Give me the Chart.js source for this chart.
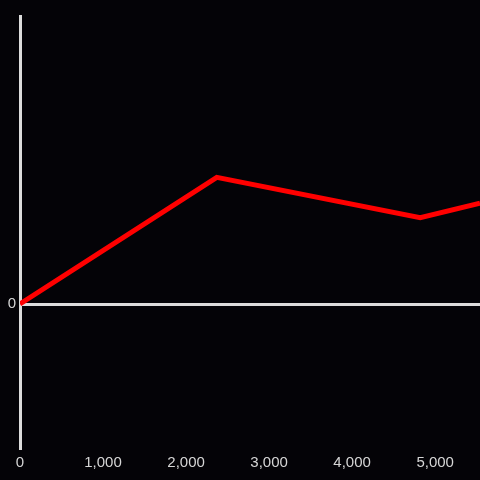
<!DOCTYPE html>
<html>
<head>
<meta charset="utf-8">
<script src="https://cdn.jsdelivr.net/npm/chart.js@4"></script>
<style>
  html, body { margin: 0; padding: 0; background: #040307; }
  #wrap { width: 480px; height: 480px; }
</style>
</head>
<body>
<div id="wrap"><canvas id="chart" width="480" height="480"></canvas></div>
<script>
// line points (x, y)
const X_VALUES = [0, 2370, 4820, 5540];
const Y_VALUES = [0, 0.88, 0.6, 0.7];
const X_TICKS = [0, 1000, 2000, 3000, 4000, 5000];
const Y_TICKS = [0];
const X_MAX = 5540;
const Y_MIN = -1;
const Y_MAX = 2;

const AXIS_COLOR = '#dcdcdc';
const LABEL_COLOR = '#d6d6d6';

const points = X_VALUES.map((x, i) => ({ x, y: Y_VALUES[i] }));

new Chart(document.getElementById('chart').getContext('2d'), {
  type: 'line',
  data: {
    datasets: [{
      data: points,
      borderColor: '#ff0000',
      borderWidth: 5,
      pointRadius: 0,
      tension: 0,
      fill: false
    }]
  },
  options: {
    responsive: false,
    animation: false,
    layout: { padding: { top: 16, right: 0, bottom: 0, left: 0 } },
    plugins: { legend: { display: false }, tooltip: { enabled: false } },
    scales: {
      x: {
        type: 'linear',
        min: 0,
        max: X_MAX,
        afterBuildTicks: s => { s.ticks = X_TICKS.map(v => ({ value: v })); },
        afterFit: s => { s.height = 32; s.paddingLeft = 0; s.paddingRight = 0; },
        grid: { display: false },
        border: { display: false },
        ticks: {
          autoSkip: false,
          maxRotation: 0,
          padding: -2,
          color: LABEL_COLOR,
          font: { family: 'Liberation Sans', size: 15 }
        }
      },
      y: {
        min: Y_MIN,
        max: Y_MAX,
        afterFit: s => { s.width = 20; },
        afterBuildTicks: s => { s.ticks = Y_TICKS.map(v => ({ value: v })); },
        grid: { drawTicks: false, color: AXIS_COLOR, lineWidth: 3 },
        border: { color: AXIS_COLOR, width: 3 },
        ticks: {
          padding: 4,
          color: LABEL_COLOR,
          font: { family: 'Liberation Sans', size: 15 }
        }
      }
    }
  }
});
</script>
</body>
</html>
